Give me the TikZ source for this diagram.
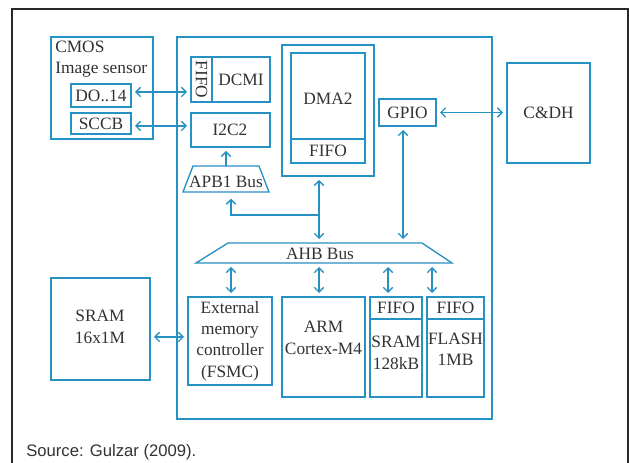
\documentclass[tikz,border=0pt]{standalone}
\usepackage{fontspec}
\setmainfont{Liberation Serif}
\newfontfamily\srcfont{Liberation Sans}
\usetikzlibrary{arrows.meta}
\definecolor{ln}{RGB}{40,145,195}
\definecolor{tx}{RGB}{50,50,50}
\definecolor{fr}{RGB}{40,40,40}
\newcommand{\mkbox}[5]{\node[box,minimum width={(#4-#2)*0.75pt},minimum height={(#5-#3)*0.75pt}] (#1) at ({(#2+#4)/2},{(#3+#5)/2}) {};}
\begin{document}
\begin{tikzpicture}[x=0.75pt,y=-0.75pt,
 box/.style={draw=ln,line width=1pt,inner sep=0pt,outer sep=0pt},
 lbl/.style={text=tx,font=\fontsize{13}{16}\selectfont,align=center,inner sep=0pt},
 conn/.style={draw=ln,line width=1pt,shorten <=3pt,shorten >=3pt},
 dbl/.style={conn,{Straight Barb[length=3.5pt,width=7pt]}-{Straight Barb[length=3.5pt,width=7pt]}},
 one/.style={conn,-{Straight Barb[length=3.5pt,width=7pt]}},
 divl/.style={draw=ln,line width=1pt}
]
\useasboundingbox (0,0) rectangle (629,463);
\draw[fr,line width=1pt] (12,463) -- (12,9) -- (628,9) -- (628,463);

% boxes
\mkbox{cmos}{51}{37}{153}{139}
\mkbox{do}{71}{84}{131}{107}
\mkbox{sccb}{71}{113}{131}{134}
\mkbox{mcu}{177}{37}{492}{419}
\mkbox{dcmi}{191}{57}{270}{102}
\draw[divl] (212,57) -- (212,102);
\mkbox{i2c}{191}{113}{270}{147}
\mkbox{dmaout}{282}{45}{374}{176}
\mkbox{dma}{291}{53}{365}{163}
\draw[divl] (291,139) -- (365,139);
\mkbox{gpio}{379}{99}{436}{126}
\mkbox{cdh}{507}{63}{590}{163}
\mkbox{sram}{51}{278}{150}{380}
\mkbox{fsmc}{188}{297}{272}{385}
\mkbox{arm}{282}{297}{365}{397}
\mkbox{sramb}{370}{297}{422}{397}
\draw[divl] (370,319) -- (422,319);
\mkbox{flash}{427}{297}{484}{397}
\draw[divl] (427,319) -- (484,319);

% buses
\draw[divl] (183,192) -- (193,166) -- (259,166) -- (269,192) -- cycle;
\draw[divl] (196,263) -- (228,243) -- (422,243) -- (452,263) -- cycle;

\coordinate (apbtop) at (226,166);
\coordinate (apbbot) at (231,192);
\coordinate (junc) at (319,215);
\coordinate (ahbtopa) at (319,243);
\coordinate (ahbtopb) at (403,243);
\coordinate (ahb1) at (231,263);
\coordinate (ahb2) at (319,263);
\coordinate (ahb3) at (388,263);
\coordinate (ahb4) at (432,263);

% connectors
\draw[dbl] (do.east |- 0,92) -- (dcmi.west |- 0,92);
\draw[dbl] (sccb.east |- 0,126) -- (i2c.west |- 0,126);
\draw[one,shorten <=0pt] (apbtop) -- (apbtop |- i2c.south);
\draw[one,shorten <=0pt,shorten >=5pt] (junc) -| (apbbot);
\draw[dbl] (junc |- dmaout.south) -- (ahbtopa);
\draw[dbl] (ahbtopb |- gpio.south) -- (ahbtopb);
\draw[dbl] (gpio.east) -- (cdh.west |- gpio.east);
\draw[dbl] (ahb1) -- (ahb1 |- fsmc.north);
\draw[dbl] (ahb2) -- (ahb2 |- arm.north);
\draw[dbl] (ahb3) -- (ahb3 |- sramb.north);
\draw[dbl] (ahb4) -- (ahb4 |- flash.north);
\draw[dbl] (sram.east |- 0,337) -- (fsmc.west |- 0,337);

% labels
\node[lbl,anchor=west,align=left] (cmost) at (55,59) {CMOS\\Image sensor};
\node[lbl] (dot) at (101,96) {DO..14};
\node[lbl] (sccbt) at (101,124) {SCCB};
\node[lbl,rotate=-90] (fifoa) at (201.5,79.5) {FIFO};
\node[lbl] (dcmit) at (241,80) {DCMI};
\node[lbl] (i2ct) at (230,130) {I2C2};
\node[lbl] (apbt) at (226,182) {APB1 Bus};
\node[lbl] (dmat) at (328,99) {DMA2};
\node[lbl] (fifob) at (328,151) {FIFO};
\node[lbl] (gpiot) at (407.5,113) {GPIO};
\node[lbl] (cdht) at (548.5,113) {C\&DH};
\node[lbl] (ahbt) at (320,254) {AHB Bus};
\node[lbl] (sramt) at (100,327) {SRAM\\16x1M};
\node[lbl] (fsmct) at (230,341) {External\\memory\\controller\\(FSMC)};
\node[lbl] (armt) at (323.5,338) {ARM\\Cortex-M4};
\node[lbl] (fifoc) at (396,308) {FIFO};
\node[lbl] (srambt) at (396,353) {SRAM\\128kB};
\node[lbl] (fifod) at (455.5,308) {FIFO};
\node[lbl] (flasht) at (455.5,349) {FLASH\\1MB};
\node[text=tx,font=\srcfont\fontsize{12.5}{15}\selectfont,anchor=west,inner sep=0pt] (src) at (26,452) {Source: Gulzar (2009).};
\end{tikzpicture}
\end{document}
